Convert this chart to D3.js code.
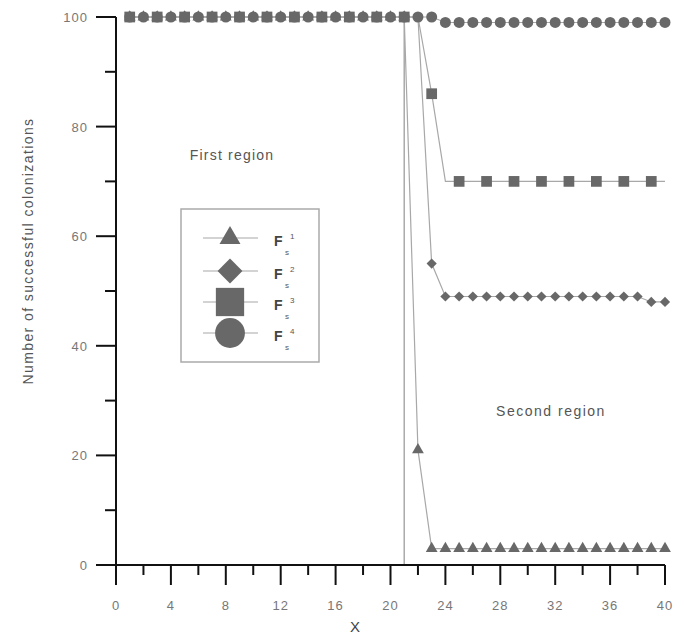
<!DOCTYPE html>
<html>
<head>
<meta charset="utf-8">
<script src="https://cdn.jsdelivr.net/npm/d3@7"></script>
<style>
  body { margin: 0; background: #fff; }
  text { font-family: "Liberation Sans", Arial, sans-serif; }
</style>
</head>
<body>
<div id="chart"></div>
<script>
// x values 1..40
var xs = d3.range(1, 41);

// F^1 (triangles)
var triVals = [100,100,100,100,100,100,100,100,100,100,100,100,100,100,100,100,100,100,100,100,100,
  21, 3,3,3,3,3,3,3,3,3,3,3,3,3,3,3,3,3,3];
// F^2 (diamonds)
var diaVals = [100,100,100,100,100,100,100,100,100,100,100,100,100,100,100,100,100,100,100,100,100,100,
  55, 49,49,49,49,49,49,49,49,49,49,49,49,49,49,49, 48,48];
// F^3 (squares, marker every other point)
var sqVals = [100,100,100,100,100,100,100,100,100,100,100,100,100,100,100,100,100,100,100,100,100,100,
  86, 70,70,70,70,70,70,70,70,70,70,70,70,70,70,70,70,70];
// F^4 (circles)
var cirVals = [100,100,100,100,100,100,100,100,100,100,100,100,100,100,100,100,100,100,100,100,100,100,100,
  99,99,99,99,99,99,99,99,99,99,99,99,99,99,99,99,99];

var xTicks = [0,4,8,12,16,20,24,28,32,36,40];
var yTicks = [0,20,40,60,80,100];
var boundaryX = 21;
var legendSup = ["1","2","3","4"];

var W = 684, H = 635;
var x0 = 116, x1 = 665, y0 = 565, y1 = 17;

var svg = d3.select("#chart").append("svg")
  .attr("width", W).attr("height", H);

var x = d3.scaleLinear().domain([0, 40]).range([x0, x1]);
var y = d3.scaleLinear().domain([0, 100]).range([y0, y1]);

var markFill = "#686868", lineCol = "#a8a8a8", axisCol = "#111", labCol = "#777";

// boundary line between regions
svg.append("line")
  .attr("x1", x(boundaryX)).attr("x2", x(boundaryX))
  .attr("y1", y(100)).attr("y2", y(0))
  .attr("stroke", "#aaa").attr("stroke-width", 1.5);

var series = [
  {vals: triVals, sym: d3.symbolTriangle, size: 60, step: 1, rot: 0},
  {vals: diaVals, sym: d3.symbolSquare, size: 52, step: 1, rot: 45},
  {vals: cirVals, sym: d3.symbolCircle, size: 95, step: 1, rot: 0},
  {vals: sqVals, sym: d3.symbolSquare, size: 115, step: 2, rot: 0}
];

var line = d3.line().x(d => x(d[0])).y(d => y(d[1]));

series.forEach(function(s) {
  var pts = xs.map((v, i) => [v, s.vals[i]]);
  svg.append("path")
    .datum(pts)
    .attr("fill", "none")
    .attr("stroke", lineCol)
    .attr("stroke-width", 1.2)
    .attr("d", line);
});

series.forEach(function(s) {
  var pts = xs.map((v, i) => [v, s.vals[i]]).filter((d, i) => i % s.step == 0);
  svg.append("g").selectAll("path")
    .data(pts)
    .join("path")
    .attr("transform", d => "translate(" + x(d[0]) + "," + y(d[1]) + ") rotate(" + s.rot + ")")
    .attr("d", d3.symbol().type(s.sym).size(s.size))
    .attr("fill", markFill);
});

// y axis
var yMinor = d3.range(10, 100, 20);
svg.append("line").attr("x1", x0).attr("x2", x0).attr("y1", y1).attr("y2", y0 + 20)
  .attr("stroke", axisCol).attr("stroke-width", 2);
svg.selectAll(".ymaj").data(yTicks).join("line")
  .attr("x1", x0 - 20).attr("x2", x0).attr("y1", d => y(d)).attr("y2", d => y(d))
  .attr("stroke", axisCol).attr("stroke-width", 2);
svg.selectAll(".ymin").data(yMinor).join("line")
  .attr("x1", x0 - 11).attr("x2", x0).attr("y1", d => y(d)).attr("y2", d => y(d))
  .attr("stroke", axisCol).attr("stroke-width", 2);
svg.selectAll(".ylab").data(yTicks).join("text")
  .attr("x", 88).attr("y", d => y(d) + 5)
  .attr("text-anchor", "end").attr("font-size", 13).attr("letter-spacing", 1).attr("fill", labCol)
  .text(d => d);

// x axis
var xMinor = d3.range(2, 40, 4);
svg.append("line").attr("x1", x0 - 20).attr("x2", x1).attr("y1", y0).attr("y2", y0)
  .attr("stroke", axisCol).attr("stroke-width", 2);
svg.selectAll(".xmaj").data(xTicks).join("line")
  .attr("x1", d => x(d)).attr("x2", d => x(d)).attr("y1", y0).attr("y2", y0 + 20)
  .attr("stroke", axisCol).attr("stroke-width", 2);
svg.selectAll(".xmin").data(xMinor).join("line")
  .attr("x1", d => x(d)).attr("x2", d => x(d)).attr("y1", y0).attr("y2", y0 + 10)
  .attr("stroke", axisCol).attr("stroke-width", 2);
svg.selectAll(".xlab").data(xTicks).join("text")
  .attr("x", d => x(d)).attr("y", 610)
  .attr("text-anchor", "middle").attr("font-size", 13).attr("letter-spacing", 1).attr("fill", labCol)
  .text(d => d);

svg.append("text").attr("x", 355).attr("y", 632)
  .attr("text-anchor", "middle").attr("font-size", 15).attr("fill", "#444").text("X");
svg.append("text")
  .attr("transform", "translate(33,251) rotate(-90)")
  .attr("text-anchor", "middle").attr("font-size", 14).attr("letter-spacing", 1.4).attr("fill", "#555")
  .text("Number of successful colonizations");

// region labels
svg.append("text").attr("x", 232).attr("y", 160).attr("text-anchor", "middle")
  .attr("font-size", 14).attr("letter-spacing", 1.2).attr("fill", "#555").text("First region");
svg.append("text").attr("x", 551).attr("y", 416).attr("text-anchor", "middle")
  .attr("font-size", 14).attr("letter-spacing", 1.5).attr("fill", "#555").text("Second region");

// legend
var lg = svg.append("g");
lg.append("rect").attr("x", 181).attr("y", 209).attr("width", 138).attr("height", 153)
  .attr("fill", "#fff").attr("stroke", "#aaa").attr("stroke-width", 1.5);
var legSym = [
  {sym: d3.symbolTriangle, size: 190, rot: 0},
  {sym: d3.symbolSquare, size: 310, rot: 45},
  {sym: d3.symbolSquare, size: 800, rot: 0},
  {sym: d3.symbolCircle, size: 700, rot: 0}
];
var legY = [238, 271, 302, 333];
legSym.forEach(function(s, i) {
  lg.append("line").attr("x1", 203).attr("x2", 258).attr("y1", legY[i]).attr("y2", legY[i])
    .attr("stroke", lineCol).attr("stroke-width", 1.2);
  lg.append("path").attr("transform", "translate(230," + legY[i] + ") rotate(" + s.rot + ")")
    .attr("d", d3.symbol().type(s.sym).size(s.size)).attr("fill", markFill);
  lg.append("text").attr("x", 274).attr("y", legY[i] + 8)
    .attr("font-size", 14).attr("font-weight", "bold").attr("fill", "#444").text("F");
  lg.append("text").attr("x", 290).attr("y", legY[i] + 1)
    .attr("font-size", 8).attr("fill", "#555").text(legendSup[i]);
  lg.append("text").attr("x", 285).attr("y", legY[i] + 17)
    .attr("font-size", 8).attr("fill", "#555").text("s");
});
</script>
</body>
</html>
